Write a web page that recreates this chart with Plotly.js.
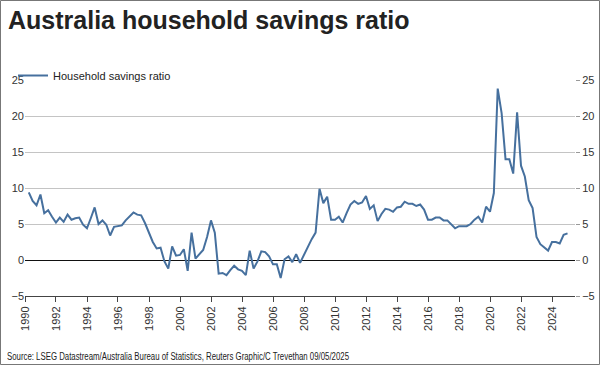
<!DOCTYPE html>
<html>
<head>
<meta charset="utf-8">
<script src="https://cdn.plot.ly/plotly-3.0.1.min.js"></script>
<style>
  html, body { margin: 0; padding: 0; background: #fff; }
  #chart { width: 600px; height: 365px; }
</style>
</head>
<body>
<div id="chart"></div>
<script>
// Quarterly household savings ratio (%), 1990 Q1 .. 2024 Q4
var startYear = 1990;
var savingsRatio = [
  9.4, 8.2, 7.6, 9.1,   6.5, 6.9, 6.0, 5.2,   5.9, 5.3, 6.3, 5.6,   5.8, 5.9, 4.9, 4.4,
  5.8, 7.3, 5.0, 5.5,   4.9, 3.4, 4.6, 4.7,   4.8, 5.5, 6.1, 6.6,   6.3, 6.2, 5.1, 3.7,
  2.5, 1.6, 1.7, -0.2,  -1.2, 1.9, 0.6, 0.7,  1.5, -1.5, 3.8, 0.2,  0.8, 1.4, 3.2, 5.5,
  3.8, -1.9, -1.8, -2.1, -1.4, -0.8, -1.3, -1.5, -2.1, 1.3, -1.2, -0.2, 1.2, 1.1, 0.5, -0.6,
  -0.6, -2.5, 0.1, 0.5, -0.3, 0.8, -0.4, 0.7,  1.9, 2.9, 3.8, 9.9,   7.9, 8.8, 5.6, 5.6,
  6.0, 5.2, 6.5, 7.7,   8.2, 7.8, 8.0, 8.9,   7.1, 7.6, 5.4, 6.4,   7.1, 7.0, 6.7, 7.3,
  7.4, 8.1, 7.8, 7.8,   7.5, 7.7, 7.0, 5.6,   5.6, 5.9, 5.9, 5.5,   5.5, 5.0, 4.4, 4.7,
  4.7, 4.7, 5.0, 5.6,   6.0, 5.2, 7.4, 6.7,   9.3, 23.8, 20.4, 14.0, 14.0, 12.0, 20.5, 13.1,
  11.6, 8.3, 7.2, 3.2,  2.2, 1.7, 1.3, 2.5,   2.5, 2.3, 3.5, 3.7
];
var quarterEndMonths = ['03-31', '06-30', '09-30', '12-31'];
var seriesName = 'Household savings ratio';
var yTicks = [-5, 0, 5, 10, 15, 20, 25];
var chartTitle = 'Australia household savings ratio';
var sourceText = 'Source: LSEG Datastream/Australia Bureau of Statistics, Reuters Graphic/C Trevethan 09/05/2025';

var dates = savingsRatio.map(function (v, i) {
  return (startYear + Math.floor(i / 4)) + '-' + quarterEndMonths[i % 4];
});

// pixel helpers for paper coords
var L = 25, R = 575, T = 80, B = 296;
function px(x) { return (x - L) / (R - L); }
function py(y) { return (B - y) / (B - T); }

var lineColor = '#46709e';
var font = 'Arial, "Liberation Sans", sans-serif';

var traces = [
  {
    x: dates, y: savingsRatio, type: 'scatter', mode: 'lines',
    name: seriesName,
    line: { color: lineColor, width: 2 },
    hoverinfo: 'x+y'
  },
  {
    x: dates, y: savingsRatio, type: 'scatter', mode: 'lines',
    yaxis: 'y2', showlegend: false, hoverinfo: 'skip',
    line: { color: 'rgba(0,0,0,0)', width: 0 }
  }
];

var layout = {
  width: 600, height: 365,
  margin: { l: L, r: 600 - R, t: T, b: 365 - B, pad: 0 },
  paper_bgcolor: '#fff', plot_bgcolor: '#fff',
  font: { family: font, size: 11, color: '#333' },
  title: {
    text: '<b>' + chartTitle + '</b>',
    x: 8 / 600, xanchor: 'left', xref: 'container',
    y: 1 - 20 / 365, yanchor: 'middle', yref: 'container',
    font: { family: font, size: 25, color: '#222' }
  },
  showlegend: true,
  legend: {
    x: px(13), xanchor: 'left', y: py(61), yanchor: 'top',
    bgcolor: 'rgba(0,0,0,0)', font: { size: 11, color: '#222' },
    itemwidth: 30
  },
  xaxis: {
    type: 'date',
    range: ['1990-01-01', '2025-06-25'],
    tick0: '1990-01-01', dtick: 'M24', tickformat: '%Y',
    tickangle: -90,
    ticks: 'outside', ticklen: 5, tickcolor: '#444', tickwidth: 1,
    showline: true, linecolor: '#444', linewidth: 1,
    showgrid: false, zeroline: false,
    tickfont: { size: 11, color: '#333' },
    fixedrange: true
  },
  yaxis: {
    range: [-5, 25], tickvals: yTicks,
    showgrid: true, gridcolor: '#c4c4c4', gridwidth: 1,
    zeroline: true, zerolinecolor: '#111', zerolinewidth: 1,
    showline: false, ticks: '',
    tickfont: { size: 11, color: '#333' },
    fixedrange: true
  },
  yaxis2: {
    range: [-5, 25], tickvals: yTicks, overlaying: 'y', side: 'right',
    showgrid: false, zeroline: false, showline: false,
    ticks: 'outside', ticklen: 4, tickcolor: '#999',
    tickfont: { size: 11, color: '#333' },
    fixedrange: true
  },
  annotations: [
    {
      text: sourceText, xref: 'paper', yref: 'paper',
      x: px(5), y: py(356), xanchor: 'left', yanchor: 'middle', align: 'left',
      showarrow: false,
      font: { family: font, size: 10, color: '#222' }
    }
  ],
  shapes: [
    {
      type: 'rect', xref: 'paper', yref: 'paper', layer: 'above',
      x0: px(0.5), x1: px(599.5), y0: py(364.5), y1: py(0.5),
      line: { color: '#777', width: 1 }
    }
  ]
};

Plotly.newPlot('chart', traces, layout, { displayModeBar: false, staticPlot: true }).then(function (gd) {
  // condense the source line to the narrow width used in the original
  var t = gd.querySelector('.annotation-text');
  if (t) {
    t.setAttribute('textLength', '342');
    t.setAttribute('lengthAdjust', 'spacingAndGlyphs');
  }
});
</script>
</body>
</html>
